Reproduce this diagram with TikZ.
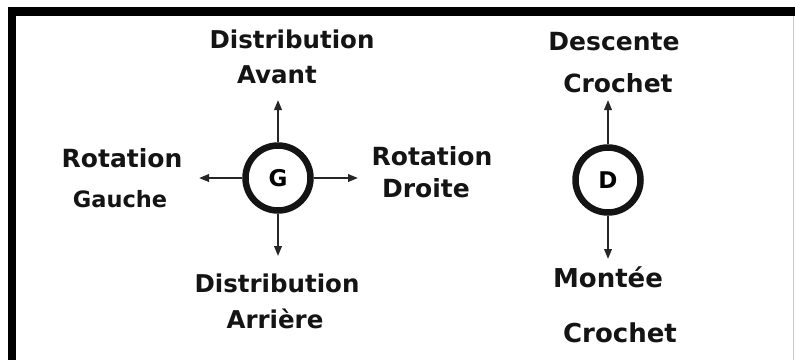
\documentclass[tikz,border=0pt]{standalone}
\usepackage{fontspec}
\setmainfont{DejaVu Sans}
\usetikzlibrary{arrows.meta}
\begin{document}
\begin{tikzpicture}[x=1pt,y=-1pt,
  lbl/.style={font=\bfseries\fontsize{#1}{#1}\selectfont, anchor=base, inner sep=0pt, text=black!92},
  ring/.style={circle, draw=black!92, line width=6.5pt, minimum size=65pt, inner sep=0pt,
    font=\bfseries\fontsize{23}{23}\selectfont},
  arr/.style={line width=2pt, draw=black!85, -{Triangle[length=10pt,width=7.5pt]}}]
\useasboundingbox (0,0) rectangle (795,360);
\fill[white] (0,0) rectangle (795,360);
% frame
\fill[black] (8,7) rectangle (795,16);
\fill[black] (8,7) rectangle (16,360);
\draw[black!20, line width=1pt] (793,16) -- (793,360);
% left control
\node[ring] (G) at (278,178) {G};
\coordinate (gu) at (278,100);
\coordinate (gd) at (278,256);
\coordinate (gl) at (199,178);
\coordinate (gr) at (358,178);
\draw[arr] (G.north) -- (gu);
\draw[arr] (G.south) -- (gd);
\draw[arr] (G.west) -- (gl);
\draw[arr] (G.east) -- (gr);
% right control
\node[ring] (D) at (608,180) {D};
\coordinate (du) at (608,100);
\coordinate (dd) at (608,259);
\draw[arr] (D.north) -- (du);
\draw[arr] (D.south) -- (dd);
% labels
\node[lbl=24.5] (t1) at (292,48) {Distribution};
\node[lbl=24.5] (t2) at (277,83) {Avant};
\node[lbl=25] (t3) at (122,167) {Rotation};
\node[lbl=22.5] (t4) at (120,207) {Gauche};
\node[lbl=25] (t5) at (432,165) {Rotation};
\node[lbl=25] (t6) at (426,197) {Droite};
\node[lbl=24.5] (t7) at (277,292) {Distribution};
\node[lbl=24.5] (t8) at (275,328) {Arrière};
\node[lbl=25] (t9) at (614,50) {Descente};
\node[lbl=25] (t10) at (618,92) {Crochet};
\node[lbl=26] (t11) at (608,287) {Montée};
\node[lbl=26] (t12) at (620,342) {Crochet};
\end{tikzpicture}
\end{document}
